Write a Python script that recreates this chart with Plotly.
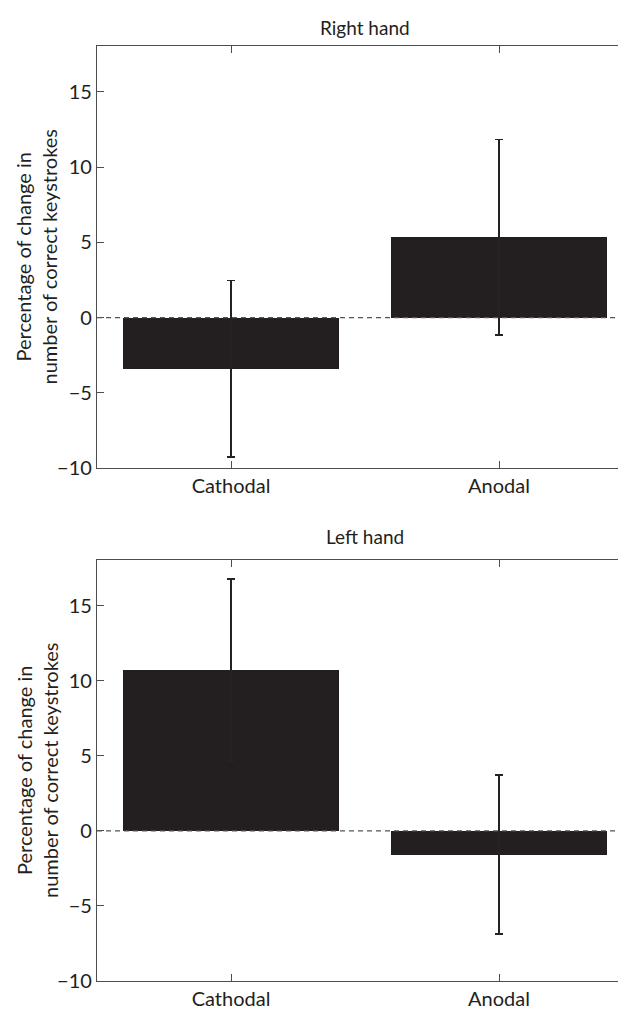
import plotly.graph_objects as go

categories = ["Cathodal", "Anodal"]
right_vals = [-3.4, 5.35]
right_err = [5.87, 6.5]
left_vals = [10.72, -1.57]
left_err = [6.06, 5.3]
panel_titles = ["Right hand", "Left hand"]
ytick_vals = [-10, -5, 0, 5, 10, 15]
ytick_text = ["\u221210", "\u22125", "0", "5", "10", "15"]
ylabel = "Percentage of change in<br>number of correct keystrokes"

# page body has an 8px margin; margins below compensate for it
W, H = 626, 1010
ML, MR, MT, MB = 89, 1, 38, 37
FONT = "Lato"
DARK = "#231f20"
AX = "#4d4d4d"

fig = go.Figure()

panels = [
    dict(vals=right_vals, err=right_err, dom=[0.5487, 1.0], ya="y", ya2="y3", xa="x"),
    dict(vals=left_vals, err=left_err, dom=[0.0, 0.4503], ya="y2", ya2="y4", xa="x2"),
]

yr = [-10, 18.05]
xr = [-0.5, 1.5]

for i, p in enumerate(panels):
    fig.add_trace(go.Bar(
        x=categories, y=p["vals"], width=0.806,
        marker=dict(color=DARK, line=dict(width=0)),
        error_y=dict(type="data", array=p["err"], visible=True,
                     color="#262223", thickness=1.5, width=4),
        xaxis=p["xa"], yaxis=p["ya"], showlegend=False,
    ))
    fig.add_trace(go.Scatter(x=categories, y=p["vals"], mode="markers",
                             marker=dict(opacity=0), xaxis=p["xa"], yaxis=p["ya2"],
                             showlegend=False, hoverinfo="skip"))

axis_font = dict(family=FONT, size=20, color=DARK)

common_x = dict(range=xr, showline=True, linecolor=AX, linewidth=1.3, mirror="ticks",
                ticks="inside", ticklen=7, tickcolor=AX, tickwidth=1.2,
                showgrid=False, zeroline=False, tickfont=axis_font,
                type="category", fixedrange=True)
common_y = dict(range=yr, showline=True, linecolor=AX, linewidth=1.3, mirror=False,
                ticks="inside", ticklen=7, tickcolor=AX, tickwidth=1.2,
                tickvals=ytick_vals, ticktext=ytick_text,
                showgrid=False, zeroline=False, tickfont=axis_font)
right_y = dict(range=yr, showline=False, ticks="inside", ticklen=11, tickcolor=AX,
               tickwidth=1.2, tickvals=ytick_vals, showticklabels=False,
               showgrid=False, zeroline=False, side="right")

fig.update_layout(
    xaxis=dict(domain=[0, 1], anchor="y", **common_x),
    xaxis2=dict(domain=[0, 1], anchor="y2", **common_x),
    yaxis=dict(domain=panels[0]["dom"], anchor="x", **common_y),
    yaxis2=dict(domain=panels[1]["dom"], anchor="x2", **common_y),
    yaxis3=dict(overlaying="y", anchor="x", **right_y),
    yaxis4=dict(overlaying="y2", anchor="x2", **right_y),
)

shapes = []
for p in panels:
    shapes.append(dict(type="line", xref=p["xa"] + " domain", yref=p["ya"],
                       x0=0, x1=1, y0=0, y1=0, layer="above",
                       line=dict(color="#555555", width=1.2, dash="5px,4px")))

annotations = []
title_y = [1.0203, 0.4749]
ylab_y = [0.7743, 0.2251]
PW = W - ML - MR
for i, p in enumerate(panels):
    annotations.append(dict(text=panel_titles[i], x=(365 - 97) / PW, y=title_y[i],
                            xref="paper", yref="paper", showarrow=False,
                            xanchor="center", yanchor="middle",
                            font=dict(family=FONT, size=19, color=DARK)))
    annotations.append(dict(text=ylabel, x=(36.5 - 97) / PW, y=ylab_y[i],
                            xref="paper", yref="paper", showarrow=False, textangle=-90,
                            xanchor="center", yanchor="middle",
                            font=dict(family=FONT, size=20, color=DARK)))

fig.update_layout(
    width=W, height=H, margin=dict(l=ML, r=MR, t=MT, b=MB, autoexpand=False),
    plot_bgcolor="white", paper_bgcolor="white",
    shapes=shapes, annotations=annotations, bargap=0,
    font=dict(family=FONT, color=DARK),
)

fig.write_html("out.html")
